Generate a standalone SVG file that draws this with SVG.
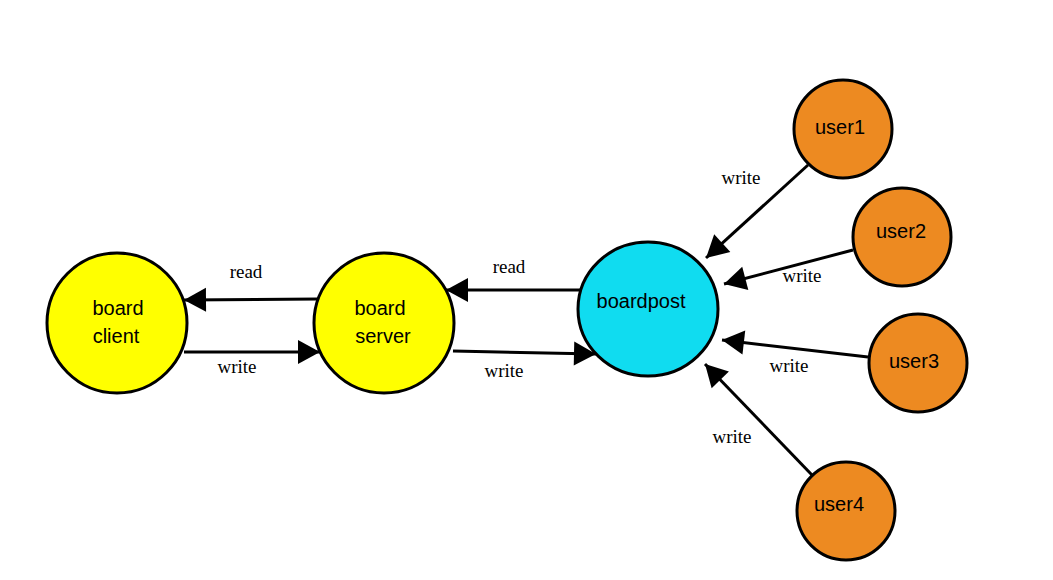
<svg xmlns="http://www.w3.org/2000/svg" width="1053" height="580" viewBox="0 0 1053 580">
<style>
.n{stroke:#000;stroke-width:3}
.y{fill:#ffff00}
.c{fill:#10dcf0}
.o{fill:#ed8a21}
.t{font-family:"Liberation Sans",Arial,sans-serif;font-size:20px;fill:#000;text-anchor:middle}
.l{font-family:"Liberation Serif","Times New Roman",serif;font-size:19px;fill:#000;text-anchor:middle}
.e{stroke:#000;stroke-width:3;fill:none;marker-end:url(#ah)}
</style>
<defs>
<marker id="ah" markerUnits="userSpaceOnUse" markerWidth="24" markerHeight="26" refX="22" refY="12" orient="auto" viewBox="0 0 24 24" overflow="visible">
<path d="M0,0 L22,12 L0,24 z" fill="#000"/>
</marker>
</defs>
<rect width="1053" height="580" fill="#fff"/>
<g id="connectors">
<line class="e" x1="318" y1="299" x2="184" y2="300"/>
<line class="e" x1="184" y1="352" x2="320" y2="352"/>
<line class="e" x1="582" y1="290" x2="446" y2="290"/>
<line class="e" x1="453" y1="351" x2="596" y2="354"/>
<line class="e" x1="808" y1="165" x2="706" y2="258"/>
<line class="e" x1="853" y1="250" x2="724" y2="284"/>
<line class="e" x1="868" y1="357" x2="722" y2="340"/>
<line class="e" x1="812" y1="475" x2="705" y2="364"/>
<text class="l" x="246" y="278">read</text>
<text class="l" x="237" y="373">write</text>
<text class="l" x="509" y="273">read</text>
<text class="l" x="504" y="377">write</text>
<text class="l" x="741" y="184">write</text>
<text class="l" x="802" y="282">write</text>
<text class="l" x="789" y="372">write</text>
<text class="l" x="732" y="443">write</text>
</g>
<g id="board_client">
<circle class="n y" cx="117" cy="323" r="70"/>
<text class="t" x="118" y="315">board</text>
<text class="t" x="116" y="343">client</text>
</g>
<g id="board_server">
<circle class="n y" cx="384" cy="323" r="70"/>
<text class="t" x="380" y="315">board</text>
<text class="t" x="383" y="343">server</text>
</g>
<g id="boardpost">
<ellipse class="n c" cx="648" cy="309" rx="70" ry="67"/>
<text class="t" x="641" y="308">boardpost</text>
</g>
<g id="user1">
<circle class="n o" cx="843" cy="129" r="49"/>
<text class="t" x="840" y="134">user1</text>
</g>
<g id="user2">
<circle class="n o" cx="902" cy="237" r="49"/>
<text class="t" x="901" y="238">user2</text>
</g>
<g id="user3">
<circle class="n o" cx="918" cy="363" r="49"/>
<text class="t" x="914" y="368">user3</text>
</g>
<g id="user4">
<circle class="n o" cx="846" cy="511" r="49"/>
<text class="t" x="839" y="511">user4</text>
</g>
</svg>
